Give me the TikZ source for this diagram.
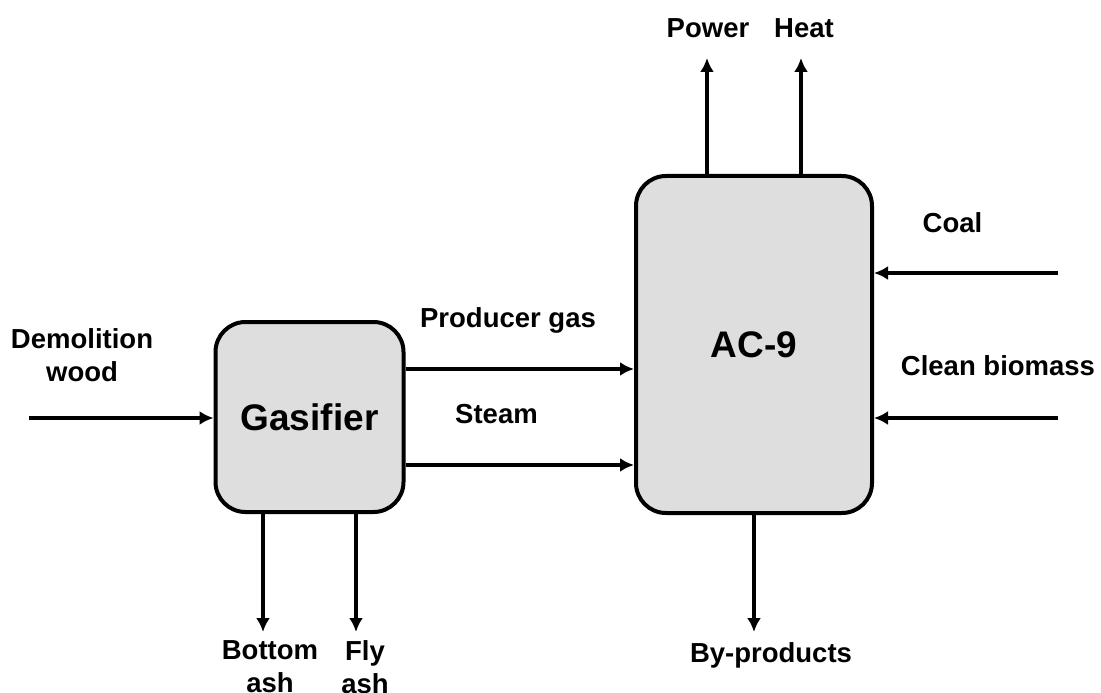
\documentclass[tikz,border=0pt]{standalone}
\usepackage{fontspec}
\setmainfont{Liberation Sans}
\usetikzlibrary{arrows.meta}
\definecolor{boxfill}{RGB}{222,222,222}
\begin{document}
\begin{tikzpicture}[x=1bp,y=-1bp,
  unit/.style={draw=black, fill=boxfill, line width=4bp, rounded corners=30bp, inner sep=0pt,
    font=\fontsize{37bp}{44bp}\selectfont\bfseries},
  lbl/.style={inner sep=0pt, font=\fontsize{27.5bp}{33bp}\selectfont\bfseries, align=center},
  flow/.style={line width=3.8bp, -{Latex[length=14bp,width=14bp]}}]
\useasboundingbox (0,0) rectangle (1101,693);
\fill[white] (0,0) rectangle (1101,693);
% units
\node[unit, minimum width=188bp, minimum height=190bp] (gas) at (309.5,417) {Gasifier};
\node[unit, minimum width=236bp, minimum height=337bp] (ac) at (754,344.5) {AC-9};
% free ends
\coordinate (dw) at (29,418);
\coordinate (pgy) at (0,369);
\coordinate (sty) at (0,465);
\coordinate (coal) at (1058,273);
\coordinate (cb) at (1058,418);
\coordinate (pw) at (707,58);
\coordinate (ht) at (801,58);
\coordinate (bp) at (754,632);
\coordinate (ba) at (263,632);
\coordinate (fa) at (356,632);
% connectors
\draw[flow] (dw) -- (dw -| gas.west);
\draw[flow] (gas.east |- pgy) -- (ac.west |- pgy);
\draw[flow] (gas.east |- sty) -- (ac.west |- sty);
\draw[flow] (coal) -- (coal -| ac.east);
\draw[flow] (cb) -- (cb -| ac.east);
\draw[flow] (pw |- ac.north) -- (pw);
\draw[flow] (ht |- ac.north) -- (ht);
\draw[flow] (bp |- ac.south) -- (bp);
\draw[flow] (ba |- gas.south) -- (ba);
\draw[flow] (fa |- gas.south) -- (fa);
% labels
\node[lbl, anchor=north] (ldw) at (82,328) {Demolition\\wood};
\node[lbl, anchor=base] (lpg) at (508,327) {Producer gas};
\node[lbl, anchor=base] (lst) at (496.5,423) {Steam};
\node[lbl, anchor=base] (lcoal) at (952.5,232) {Coal};
\node[lbl, anchor=base] (lcb) at (998,375) {Clean biomass};
\node[lbl, anchor=base] (lpw) at (708,38) {Power};
\node[lbl, anchor=base] (lht) at (804,38) {Heat};
\node[lbl, anchor=base] (lbp) at (771,662) {By-products};
\node[lbl, anchor=north] (lba) at (270,640) {Bottom\\ash};
\node[lbl, anchor=north] (lfa) at (365,640) {Fly\\ash};
\end{tikzpicture}
\end{document}
